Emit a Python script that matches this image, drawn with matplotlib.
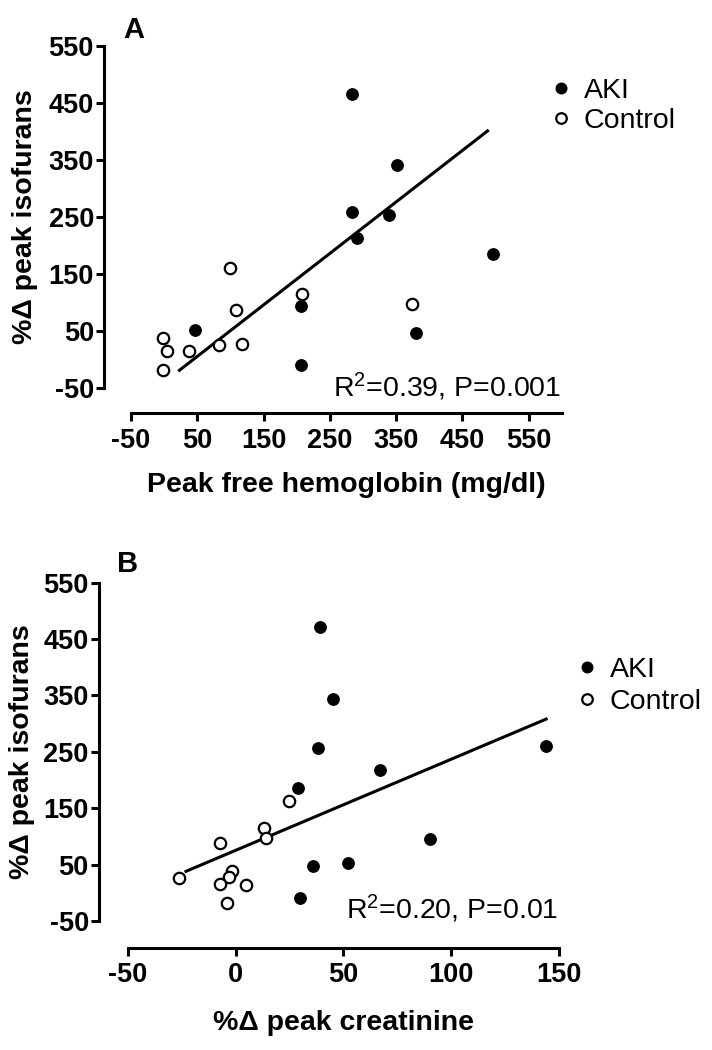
import numpy as np
import matplotlib
matplotlib.use("Agg")
import matplotlib.pyplot as plt
from matplotlib.lines import Line2D

plt.rcParams['font.family'] = ['Liberation Sans', 'DejaVu Sans']
plt.rcParams['mathtext.fontset'] = 'custom'
plt.rcParams['mathtext.rm'] = 'Liberation Sans'
plt.rcParams['mathtext.default'] = 'regular'
plt.rcParams['axes.unicode_minus'] = False

# panel A: peak free hemoglobin vs % change isofurans
hb_aki = [283, 351, 283, 340, 291, 496, 207, 47, 380, 207]
iso_aki_a = [466, 341, 259, 253, 214, 185, 94, 52, 47, -10]
hb_ctrl = [99, 208, 374, 108, -2, 83, 118, 5, 38, -2]
iso_ctrl_a = [161, 114, 97, 87, 37, 25, 28, 15, 15, -18]
fit_a_x = [23, 488]
fit_a_y = [-19, 401]

# panel B: % change creatinine vs % change isofurans
cr_aki = [39, 45, 38, 144, 67, 29, 90, 52, 36, 30]
iso_aki_b = [471, 344, 256, 261, 217, 186, 96, 52, 48, -10]
cr_ctrl = [25, 13, 14, -7, -26, -1.5, -3, -7, 5, -4]
iso_ctrl_b = [163, 115, 98, 89, 26, 38, 28, 15, 14, -18]
fit_b_x = [-23, 144]
fit_b_y = [38, 308]

y_ticks = [-50, 50, 150, 250, 350, 450, 550]
x_ticks_a = [-50, 50, 150, 250, 350, 450, 550]
x_ticks_b = [-50, 0, 50, 100, 150]

group_names = ['AKI', 'Control']
stat_a = r'R$^2$=0.39, P=0.001'
stat_b = r'R$^2$=0.20, P=0.01'

LW = 2.2
MS = 8.2


def style_axis(ax, xlim, xticks, left_out, bottom_out, xpad):
    ax.set_xlim(xlim)
    ax.set_ylim(-50, 550)
    ax.spines['top'].set_visible(False)
    ax.spines['right'].set_visible(False)
    ax.spines['left'].set_position(('outward', left_out))
    ax.spines['bottom'].set_position(('outward', bottom_out))
    ax.spines['left'].set_bounds(-50, 550)
    ax.spines['bottom'].set_bounds(xlim[0], xlim[1])
    for s in ['left', 'bottom']:
        ax.spines[s].set_linewidth(LW)
    ax.set_xticks(xticks)
    ax.set_yticks(y_ticks)
    ax.tick_params(axis='both', direction='out', length=5.8, width=LW,
                   labelsize=19.5)
    ax.tick_params(axis='y', pad=1.5)
    ax.tick_params(axis='x', pad=xpad)
    for lab in ax.get_xticklabels() + ax.get_yticklabels():
        lab.set_fontweight('bold')
    ax.patch.set_visible(False)


def draw_points(ax, xa, ya, xc, yc, fx, fy):
    ax.plot(fx, fy, color='black', lw=LW, clip_on=False, zorder=2)
    ax.plot(xc, yc, 'o', ms=MS, mfc='white', mec='black', mew=1.6,
            ls='none', clip_on=False, zorder=3)
    ax.plot(xa, ya, 'o', ms=MS, mfc='black', mec='black', mew=1.0,
            ls='none', clip_on=False, zorder=4)


def add_legend(ax, anchor, spacing):
    handles = [
        Line2D([], [], marker='o', ls='none', ms=MS - 0.6, mfc='black', mec='black'),
        Line2D([], [], marker='o', ls='none', ms=MS - 0.6, mfc='white', mec='black', mew=1.6),
    ]
    ax.legend(handles, group_names, loc='center left', bbox_to_anchor=anchor,
              frameon=False, fontsize=20.5, handlelength=0.8, handletextpad=0.4,
              labelspacing=spacing, borderpad=0, borderaxespad=0)


fig = plt.figure(figsize=(7.12, 10.5), dpi=100)

# ---- panel A
ax1 = fig.add_axes([0.184, 0.6305, 0.605, 0.3257])
draw_points(ax1, hb_aki, iso_aki_a, hb_ctrl, iso_ctrl_a, fit_a_x, fit_a_y)
style_axis(ax1, (-50, 600), x_ticks_a, 19.4, 18, 5)
ax1.set_xlabel('Peak free hemoglobin (mg/dl)', fontsize=20.5, fontweight='bold')
ax1.set_ylabel('%\u0394 peak isofurans', fontsize=20.5, fontweight='bold')
ax1.xaxis.set_label_coords(0.5, -0.245)
ax1.yaxis.set_label_coords(-0.216, 0.5)
add_legend(ax1, (0.971, 0.8246), 0.15)
ax1.text(0.999, -0.025, stat_a, transform=ax1.transAxes, ha='right',
         va='baseline', fontsize=20.5)
fig.text(0.1728, 0.9635, 'A', fontsize=21, fontweight='bold', va='baseline')

# ---- panel B
ax2 = fig.add_axes([0.1794, 0.1229, 0.6058, 0.3222])
draw_points(ax2, cr_aki, iso_aki_b, cr_ctrl, iso_ctrl_b, fit_b_x, fit_b_y)
style_axis(ax2, (-50, 150), x_ticks_b, 20.7, 19.4, 4)
ax2.set_xlabel('%\u0394 peak creatinine', fontsize=20.5, fontweight='bold')
ax2.set_ylabel('%\u0394 peak isofurans', fontsize=20.5, fontweight='bold')
ax2.xaxis.set_label_coords(0.5, -0.262)
ax2.yaxis.set_label_coords(-0.216, 0.5)
add_legend(ax2, (1.0385, 0.695), 0.23)
ax2.text(0.998, 0.005, stat_b, transform=ax2.transAxes, ha='right',
         va='baseline', fontsize=20.5)
fig.text(0.1643, 0.4555, 'B', fontsize=21, fontweight='bold', va='baseline')

fig.savefig('out.png', dpi=100)
